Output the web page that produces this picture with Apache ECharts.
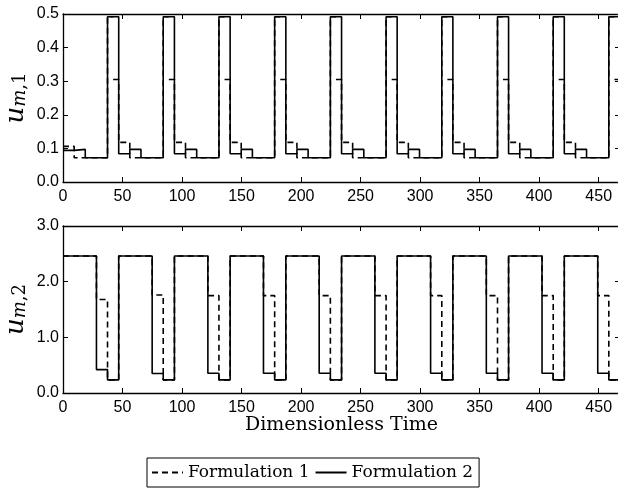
<!DOCTYPE html>
<html><head><meta charset="utf-8">
<script src="https://cdn.jsdelivr.net/npm/echarts@6/dist/echarts.min.js"></script>
<style>html,body{margin:0;padding:0;background:#fff}#c{width:618px;height:491px}</style>
</head><body><div id="c"></div>
<script>
// ---- axis settings ----
const xMin = 0, xMax = 467.9, xInterval = 50;
const u1Min = 0, u1Max = 0.5, u1Interval = 0.1;
const u2Min = 0, u2Max = 3, u2Interval = 1;
const seriesNames = ['Formulation 1', 'Formulation 2'];

// ---- u_{m,1}, Formulation 2 (solid): switch times and held values ----
const u1F2Time = [0, 9.4, 18.7, 37.4, 46.8, 56.1, 65.5, 84.2, 93.6, 102.9, 112.3, 131.0,
  140.4, 149.7, 159.1, 177.8, 187.2, 196.5, 205.9, 224.6, 234.0, 243.3, 252.7, 271.4,
  280.7, 290.1, 299.5, 318.2, 327.5, 336.9, 346.2, 365.0, 374.3, 383.7, 393.0, 411.8,
  421.1, 430.5, 439.8, 458.5, 467.9];
const u1F2Val = [0.094, 0.097, 0.072, 0.492, 0.084, 0.097, 0.072, 0.492, 0.084, 0.097, 0.072, 0.492,
  0.084, 0.097, 0.072, 0.492, 0.084, 0.097, 0.072, 0.492, 0.084, 0.097, 0.072, 0.492,
  0.084, 0.097, 0.072, 0.492, 0.084, 0.097, 0.072, 0.492, 0.084, 0.097, 0.072, 0.492,
  0.084, 0.097, 0.072, 0.492, 0.492];

// ---- u_{m,1}, Formulation 1 (dashed); null = pen lifted ----
const u1F1Time = [0, 9.4, 37.4, 42.1, 42.1, 42.1,
  46.8, 56.1, 84.2, 88.9, 88.9, 88.9,
  93.6, 102.9, 131.0, 135.7, 135.7, 135.7,
  140.4, 149.7, 177.8, 182.5, 182.5, 182.5,
  187.2, 196.5, 224.6, 229.3, 229.3, 229.3,
  234.0, 243.3, 271.4, 276.1, 276.1, 276.1,
  280.7, 290.1, 318.2, 322.9, 322.9, 322.9,
  327.5, 336.9, 365.0, 369.6, 369.6, 369.6,
  374.3, 383.7, 411.8, 416.4, 416.4, 416.4,
  421.1, 430.5, 458.5, 463.2, 463.2, 463.2, 467.9];
const u1F1Val = [0.106, 0.072, 0.492, 0.492, null, 0.305,
  0.118, 0.072, 0.492, 0.492, null, 0.305,
  0.118, 0.072, 0.492, 0.492, null, 0.305,
  0.118, 0.072, 0.492, 0.492, null, 0.305,
  0.118, 0.072, 0.492, 0.492, null, 0.305,
  0.118, 0.072, 0.492, 0.492, null, 0.305,
  0.118, 0.072, 0.492, 0.492, null, 0.305,
  0.118, 0.072, 0.492, 0.492, null, 0.305,
  0.118, 0.072, 0.492, 0.492, null, 0.305,
  0.118, 0.072, 0.492, 0.492, null, 0.305, 0.305];

// ---- u_{m,2}: switch times (shared) ----
const u2Time = [0, 28.1, 37.4, 46.8, 74.9, 84.2, 93.6, 121.7, 131.0, 140.4, 168.4, 177.8,
  187.2, 215.2, 224.6, 234.0, 262.0, 271.4, 280.7, 308.8, 318.2, 327.5, 355.6, 365.0,
  374.3, 402.4, 411.8, 421.1, 449.2, 458.5, 467.9];
const u2F2Val = [2.46, 0.42, 0.235, 2.46, 0.35, 0.235, 2.46, 0.355, 0.235, 2.46, 0.355, 0.235,
  2.46, 0.355, 0.235, 2.46, 0.355, 0.235, 2.46, 0.355, 0.235, 2.46, 0.355, 0.235,
  2.46, 0.355, 0.235, 2.46, 0.355, 0.235, 0.235];
const u2F1Val = [2.46, 1.68, 0.235, 2.46, 1.76, 0.235, 2.46, 1.75, 0.235, 2.46, 1.75, 0.235,
  2.46, 1.75, 0.235, 2.46, 1.75, 0.235, 2.46, 1.75, 0.235, 2.46, 1.75, 0.235,
  2.46, 1.75, 0.235, 2.46, 1.75, 0.235, 0.235];

const pair = (t, v) => t.map((x, i) => [x, v[i]]);

const sans = 'Liberation Sans';
const serif = 'DejaVu Serif';
const lineCol = '#000';

function xAx(gridIndex, pos, showLabels, name) {
  return {
    type: 'value', gridIndex, position: pos, min: xMin, max: xMax, interval: xInterval,
    axisLine: { show: true, onZero: false, lineStyle: { color: lineCol, width: 1.3 } },
    axisTick: { show: true, inside: true, length: 5, lineStyle: { color: lineCol, width: 1 } },
    axisLabel: { show: showLabels, showMaxLabel: false, color: '#000', fontFamily: sans, fontSize: 16, margin: 7 },
    splitLine: { show: false },
    name: name || '', nameLocation: 'middle', nameGap: 23, nameMoveOverlap: false,
    nameTextStyle: { fontFamily: serif, fontSize: 19, color: '#000' }
  };
}
function yAx(gridIndex, pos, min, max, interval, showLabels, sub) {
  return {
    type: 'value', gridIndex, position: pos, min, max, interval,
    axisLine: { show: true, onZero: false, lineStyle: { color: lineCol, width: 1.3 } },
    axisTick: { show: true, inside: true, length: 5, lineStyle: { color: lineCol, width: 1 } },
    axisLabel: { show: showLabels, color: '#000', fontFamily: sans, fontSize: 16, margin: 4,
      formatter: v => v.toFixed(1) },
    splitLine: { show: false },
    name: sub ? '{u|u}{s|m}{n|,' + sub + '}' : '',
    nameLocation: 'middle', nameGap: 34, nameRotate: 90, nameMoveOverlap: false,
    nameTextStyle: {
      color: '#000',
      rich: {
        u: { fontFamily: serif, fontStyle: 'italic', fontSize: 26, verticalAlign: 'bottom', color: '#000' },
        s: { fontFamily: serif, fontStyle: 'italic', fontSize: 18, verticalAlign: 'bottom', color: '#000' },
        n: { fontFamily: serif, fontSize: 18, verticalAlign: 'bottom', color: '#000' }
      }
    }
  };
}

function ser(name, data, xi, yi, dashed) {
  return {
    name, type: 'line', step: 'end', data, xAxisIndex: xi, yAxisIndex: yi,
    symbol: 'none', showSymbol: false, connectNulls: false, animation: false,
    lineStyle: { color: '#000', width: 1.6, type: dashed ? [6, 4] : 'solid' },
    itemStyle: { color: '#000' }, z: dashed ? 3 : 2
  };
}

const chart = echarts.init(document.getElementById('c'), null, { renderer: 'canvas' });
chart.setOption({
  animation: false,
  backgroundColor: '#fff',
  grid: [
    { left: 63, top: 14, width: 557, height: 168, outerBoundsMode: 'none', containLabel: false },
    { left: 63, top: 226, width: 557, height: 167, outerBoundsMode: 'none', containLabel: false }
  ],
  xAxis: [xAx(0, 'bottom', true), xAx(0, 'top', false), xAx(1, 'bottom', true, 'Dimensionless Time'), xAx(1, 'top', false)],
  yAxis: [
    yAx(0, 'left', u1Min, u1Max, u1Interval, true, '1'),
    yAx(0, 'right', u1Min, u1Max, u1Interval, false),
    yAx(1, 'left', u2Min, u2Max, u2Interval, true, '2'),
    yAx(1, 'right', u2Min, u2Max, u2Interval, false)
  ],
  legend: {
    data: seriesNames, left: 147, top: 458, orient: 'horizontal',
    padding: [6, 6, 6, 4], itemGap: 5, itemWidth: 31, itemHeight: 14,
    borderColor: '#000', borderWidth: 1, backgroundColor: '#fff',
    itemStyle: { opacity: 0 },
    textStyle: { fontFamily: serif, fontSize: 17, color: '#000' },
    selectedMode: false
  },
  series: [
    ser(seriesNames[1], pair(u1F2Time, u1F2Val), 0, 0, false),
    ser(seriesNames[0], pair(u1F1Time, u1F1Val), 0, 0, true),
    ser(seriesNames[1], pair(u2Time, u2F2Val), 2, 2, false),
    ser(seriesNames[0], pair(u2Time, u2F1Val), 2, 2, true)
  ]
});
</script></body></html>
